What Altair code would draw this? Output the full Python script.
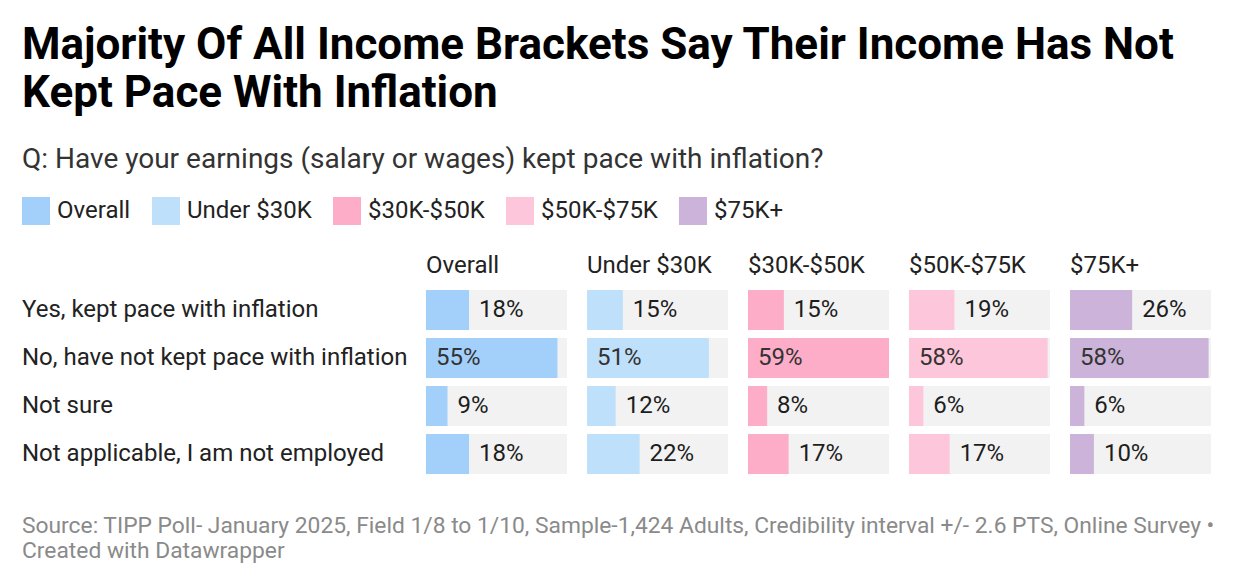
import altair as alt
import pandas as pd

title_lines = ["Majority Of All Income Brackets Say Their Income Has Not", "Kept Pace With Inflation"]
subtitle = "Q: Have your earnings (salary or wages) kept pace with inflation?"
answers = [
    "Yes, kept pace with inflation",
    "No, have not kept pace with inflation",
    "Not sure",
    "Not applicable, I am not employed",
]
groups = ["Overall", "Under $30K", "$30K-$50K", "$50K-$75K", "$75K+"]
colors = ["#a3d0fb", "#bfe0fb", "#fdadc8", "#fec6da", "#cbb3d9"]
overall = [18, 55, 9, 18]
under30 = [15, 51, 12, 22]
k30_50 = [15, 59, 8, 17]
k50_75 = [19, 58, 6, 17]
k75plus = [26, 58, 6, 10]
source_lines = [
    "Source: TIPP Poll- January 2025, Field 1/8 to 1/10, Sample-1,424 Adults, Credibility interval +/- 2.6 PTS, Online Survey \u2022",
    "Created with Datawrapper",
]

series = [overall, under30, k30_50, k50_75, k75plus]
rows = []
for g, vals in zip(groups, series):
    for a, v in zip(answers, vals):
        rows.append({"group": g, "answer": a, "value": v})
df = pd.DataFrame(rows)
vmax = df["value"].max()
df["full"] = vmax
df["inside"] = df["value"] > 40
df["lpos"] = df["value"].where(~df["inside"], 0)
df["label"] = df["value"].astype(str) + "%"

FONT = "Roboto"
yscale = alt.Scale(type="band", domain=answers, paddingInner=8 / 48, paddingOuter=0)
xs = alt.Scale(domain=[0, int(vmax)], nice=False, zero=True)
cscale = alt.Scale(domain=groups, range=colors)
legend = alt.Legend(
    orient="top", direction="horizontal", title=None, symbolType="square",
    symbolSize=784, symbolStrokeWidth=0, labelFontSize=24, labelFont=FONT,
    labelColor="#222", columnPadding=21, labelOffset=7, offset=29, padding=0,
)

Y = alt.Y("answer:N", sort=answers, scale=yscale, axis=None)

labels_chart = alt.Chart(pd.DataFrame({"answer": answers})).mark_text(
    align="left", baseline="middle", fontSize=24, font=FONT, color="#222"
).encode(x=alt.value(0), y=Y, text="answer:N").properties(width=382, height=184)


def panel(g):
    base = alt.Chart(df).transform_filter(alt.datum.group == g)
    bg = base.mark_bar(color="#f2f2f2").encode(
        x=alt.X("full:Q", scale=xs, axis=None), y=Y
    )
    fg = base.mark_bar().encode(
        x=alt.X("value:Q", scale=xs, axis=None), y=Y,
        color=alt.Color("group:N", scale=cscale, legend=legend, sort=groups),
    )
    txt = base.mark_text(
        align="left", baseline="middle", dx=10, fontSize=24, font=FONT
    ).encode(
        x=alt.X("lpos:Q", scale=xs, axis=None), y=Y, text="label:N",
        color=alt.condition(alt.datum.inside, alt.value("#333333"), alt.value("#1d1d1d")),
    )
    return alt.layer(bg, fg, txt).properties(
        width=141, height=184,
        title=alt.TitleParams(
            g, anchor="start", fontSize=24, font=FONT, fontWeight="normal",
            color="#222", offset=12,
        ),
    )


panels = alt.hconcat(*[panel(g) for g in groups], spacing=20)
main = alt.hconcat(labels_chart, panels, spacing=18).resolve_scale(color="shared")

footer = alt.Chart(pd.DataFrame({"t": ["\n".join(source_lines)]})).mark_text(
    align="left", baseline="top", fontSize=22.8, font=FONT, color="#8a8a8a",
    lineBreak="\n", lineHeight=24.5,
).encode(x=alt.value(0), y=alt.value(0), text="t:N").properties(width=1200, height=50)

chart = alt.vconcat(main, footer, spacing=41).resolve_scale(color="shared").properties(
    padding={"left": 14, "top": 16, "right": 10, "bottom": 5},
    title=alt.TitleParams(
        title_lines, subtitle=subtitle, anchor="start", font=FONT, fontSize=44,
        fontWeight="bold", color="#000", lineHeight=48, subtitleFont=FONT,
        subtitleFontSize=28, subtitleColor="#333", subtitlePadding=30, offset=23,
    ),
).configure_view(stroke=None)

chart.save("out.html", embed_options={"renderer": "svg", "actions": False})
